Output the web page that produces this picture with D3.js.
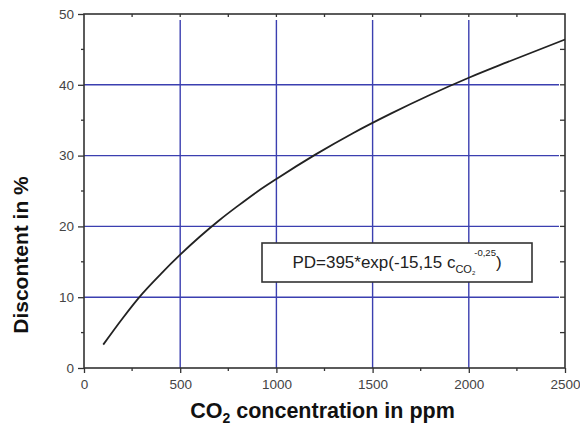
<!DOCTYPE html>
<html>
<head>
<meta charset="utf-8">
<script src="https://cdn.jsdelivr.net/npm/d3@7"></script>
<style>
  body { margin: 0; background: #fff; }
  text { font-family: "Liberation Sans", Arial, sans-serif; }
</style>
</head>
<body>
<div class="canvas"></div>
<script>
// values
const concentration = [100, 200, 300, 400, 500, 600, 700, 800, 900, 1000, 1200, 1400, 1600, 1800, 2000, 2200, 2500];
const discontent = [3.3, 7.0, 10.4, 13.3, 16.0, 18.5, 20.8, 22.9, 24.9, 26.7, 30.1, 33.2, 36.0, 38.6, 41.0, 43.2, 46.4];
const xTicks = [0, 500, 1000, 1500, 2000, 2500];
const yTicks = [0, 10, 20, 30, 40, 50];
const xGrid = [500, 1000, 1500, 2000];
const yGrid = [10, 20, 30, 40];

const width = 580, height = 432;
const margin = { top: 14, right: 15, bottom: 64, left: 84 };
const graphWidth = width - margin.left - margin.right;
const graphHeight = height - margin.top - margin.bottom;

const svg = d3.select('.canvas')
    .append('svg')
    .attr('width', width)
    .attr('height', height);

const graph = svg.append('g')
    .attr('transform', `translate(${margin.left},${margin.top})`);

const x = d3.scaleLinear().domain([0, 2500]).range([0, graphWidth]);
const y = d3.scaleLinear().domain([0, 50]).range([graphHeight, 0]);

//==== grid
graph.selectAll('.vgrid').data(xGrid).enter().append('line')
    .attr('x1', d => x(d)).attr('x2', d => x(d))
    .attr('y1', 6).attr('y2', graphHeight)
    .attr('stroke', '#3b3fb0').attr('stroke-width', 1.4);
graph.selectAll('.hgrid').data(yGrid).enter().append('line')
    .attr('x1', 0).attr('x2', graphWidth - 6)
    .attr('y1', d => y(d)).attr('y2', d => y(d))
    .attr('stroke', '#3b3fb0').attr('stroke-width', 1.4);

//==== axes
const axisColor = '#333';
const xAxis = d3.axisBottom(x).tickValues(xTicks).tickSize(5).tickPadding(6).tickFormat(d3.format('d'));
const yAxis = d3.axisLeft(y).tickValues(yTicks).tickSize(6).tickPadding(4).tickFormat(d3.format('d'));

const xAxisGroup = graph.append('g').attr('transform', `translate(0,${graphHeight})`).call(xAxis);
const yAxisGroup = graph.append('g').call(yAxis);
[xAxisGroup, yAxisGroup].forEach(g => {
    g.select('.domain').remove();
    g.selectAll('line').attr('stroke', axisColor).attr('stroke-width', 1.3);
    g.selectAll('text').attr('fill', '#444').style('font-size', '13.5px');
});

// minor ticks
const xMinor = d3.range(250, 2500, 500);
const yMinor = d3.range(5, 50, 10);
xAxisGroup.selectAll('.minor').data(xMinor).enter().append('line')
    .attr('x1', d => x(d)).attr('x2', d => x(d)).attr('y1', 0).attr('y2', 3)
    .attr('stroke', axisColor).attr('stroke-width', 1.3);
yAxisGroup.selectAll('.minor').data(yMinor).enter().append('line')
    .attr('y1', d => y(d)).attr('y2', d => y(d)).attr('x1', 0).attr('x2', -3)
    .attr('stroke', axisColor).attr('stroke-width', 1.3);
// top & right inward ticks
graph.selectAll('.topTick').data(xMinor.concat(xGrid)).enter().append('line')
    .attr('x1', d => x(d)).attr('x2', d => x(d)).attr('y1', 0).attr('y2', 3)
    .attr('stroke', axisColor).attr('stroke-width', 1.3);
graph.selectAll('.rightTick').data(yMinor.concat(yGrid)).enter().append('line')
    .attr('y1', d => y(d)).attr('y2', d => y(d)).attr('x1', graphWidth).attr('x2', graphWidth - 5)
    .attr('stroke', axisColor).attr('stroke-width', 1.3);

// frame
graph.append('rect')
    .attr('width', graphWidth).attr('height', graphHeight)
    .attr('fill', 'none').attr('stroke', axisColor).attr('stroke-width', 1.6);

//==== curve
const line = d3.line()
    .x((d, i) => x(concentration[i]))
    .y(d => y(d))
    .curve(d3.curveMonotoneX);
graph.append('path')
    .datum(discontent)
    .attr('d', line)
    .attr('fill', 'none')
    .attr('stroke', '#222')
    .attr('stroke-width', 1.8);

//==== formula box
const box = svg.append('g').attr('transform', 'translate(262,243)');
box.append('rect')
    .attr('width', 270).attr('height', 39)
    .attr('fill', '#fff').attr('stroke', '#333').attr('stroke-width', 1.6);
const formula = box.append('text')
    .attr('x', 135).attr('y', 25)
    .attr('text-anchor', 'middle')
    .attr('fill', '#222')
    .style('font-size', '17px');
formula.append('tspan').text('PD=395*exp(-15,15 c');
formula.append('tspan').text('CO').attr('dy', 5).style('font-size', '11px');
formula.append('tspan').text('2').attr('dy', 2).style('font-size', '6px');
formula.append('tspan').text('-0,25').attr('dy', -19).attr('dx', -1).style('font-size', '9.5px');
formula.append('tspan').text(')').attr('dy', 12);

//==== axis titles
const xTitle = svg.append('text')
    .attr('x', margin.left + graphWidth / 2 - 2)
    .attr('y', 418)
    .attr('text-anchor', 'middle')
    .attr('fill', '#111')
    .style('font-size', '21.5px').style('font-weight', 'bold');
xTitle.append('tspan').text('CO');
xTitle.append('tspan').text('2').attr('dy', 5).style('font-size', '14px');
xTitle.append('tspan').text(' concentration in ppm').attr('dy', -5);

svg.append('text')
    .attr('transform', `translate(28,${255}) rotate(-90)`)
    .attr('text-anchor', 'middle')
    .attr('fill', '#111')
    .style('font-size', '21px').style('font-weight', 'bold')
    .text('Discontent in %');
</script>
</body>
</html>
